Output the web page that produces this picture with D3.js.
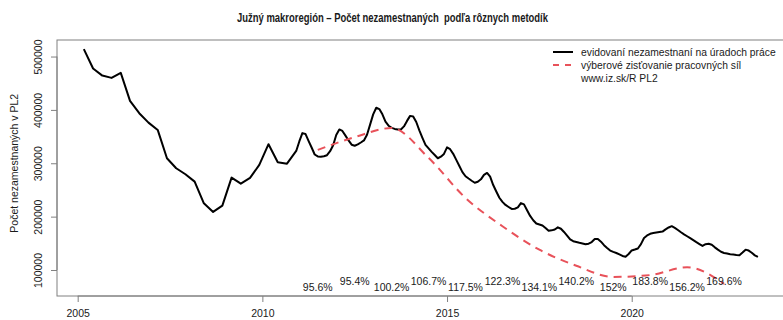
<!DOCTYPE html>
<html>
<head>
<meta charset="utf-8">
<script src="https://cdn.jsdelivr.net/npm/d3@7"></script>
<style>
  html, body { margin: 0; padding: 0; background: #fff; }
  svg { display: block; font-family: "Liberation Sans", Arial, Helvetica, sans-serif; }
  .title { white-space: pre; }
</style>
</head>
<body>
<svg id="chart" width="783" height="320"></svg>
<script>
// Registered unemployed (labour offices), quarterly Mar 2005 – Dec 2010
const regQuarterly = [
  513800, 477500, 464300, 460000,
  469400, 416900, 393800, 376200,
  362500, 309400, 290700, 279400,
  265600, 225000, 208800, 220600,
  273100, 261800, 272500, 296900,
  335700, 301900, 299300, 323100
];

// Registered unemployed, monthly Jan 2011 – Jun 2023
const regMonthly = [
  340900, 356500, 355000, 342100, 329500, 316400, 312800, 312400, 313200, 315100, 322600, 333800,
  353100, 363400, 360600, 351800, 342800, 334800, 332900, 335300, 338900, 342800, 353500, 372400,
  391600, 404100, 401500, 391800, 378100, 370400, 366300, 364400, 363300, 363300, 369100, 379400,
  388800, 387800, 377300, 361800, 347700, 334400, 327800, 321300, 315400, 309400, 312300, 317500,
  329700, 326300, 317700, 306300, 294800, 283400, 275700, 271400, 267300, 263500, 265400, 269900,
  278300, 281900, 274800, 259200, 247000, 235400, 227700, 221900, 218100, 214400, 214800, 217200,
  225400, 223000, 212100, 201300, 193200, 187200, 185300, 183400, 178600, 173500, 174300, 175900,
  179900, 177300, 171300, 164500, 157200, 154000, 152500, 151000, 149700, 148200, 149300, 152300,
  157900, 158100, 153100, 146500, 141300, 136400, 133900, 131900, 129300, 126300, 124900, 130000,
  136600, 138300, 140300, 148400, 160000, 164700, 167900, 169200, 170100, 171100, 172000, 176100,
  179700, 182100, 178900, 175000, 170700, 166800, 163200, 159600, 155900, 152100, 148600, 145200,
  148400, 149100, 147300, 142400, 138100, 134100, 131900, 130800, 129600, 128900, 128100, 127800,
  132800, 138100, 136400, 132300, 127400, 124400
];

// Labour force survey, annual values (plotted at mid-year)
const lfsYears = [2011, 2012, 2013, 2014, 2015, 2016, 2017, 2018, 2019, 2020, 2021, 2022];
const lfsValues = [325000, 349000, 366000, 310000, 235000, 182000, 138000, 108000, 87000, 90500, 105000, 74000];

// Ratio registered / LFS per year
const ratioLabels = ["95.6%", "95.4%", "100.2%", "106.7%", "117.5%", "122.3%",
                     "134.1%", "140.2%", "152%", "183.8%", "156.2%", "169.6%"];

const xTicks = [2005, 2010, 2015, 2020];
const yTicks = [100000, 200000, 300000, 400000, 500000];

const titleText = "Južný makroregión – Počet nezamestnaných  podľa rôznych metodík";
const yTitle = "Počet nezamestnaných v PL2";
const legendItems = [
  { label: "evidovaní nezamestnaní na úradoch práce", kind: "solid" },
  { label: "výberové zisťovanie pracovných síl", kind: "dash" },
  { label: "www.iz.sk/R PL2", kind: "none" }
];

const svg = d3.select("#chart");
const plot = { left: 57, right: 785, top: 40, bottom: 296 };

const x = d3.scaleLinear().domain([2004.44, 2024.15]).range([plot.left, plot.right]);
const y = d3.scaleLinear().domain([51250, 531000]).range([plot.bottom, plot.top]);

const RED = "#E8525A";
const AXIS = "#808080";
const TEXT = "#1a1a1a";

// Build the registered series
const regSeries = [];
regQuarterly.forEach((v, i) => {
  regSeries.push({ t: 2005 + Math.floor(i / 4) + (3 * (i % 4) + 2) / 12, v });
});
regMonthly.forEach((v, i) => {
  regSeries.push({ t: 2011 + i / 12, v });
});
const lfsSeries = lfsYears.map((yr, i) => ({ t: yr + 0.5, v: lfsValues[i] }));

// Title
svg.append("text")
  .attr("class", "title")
  .attr("x", 392.5).attr("y", 22)
  .attr("text-anchor", "middle")
  .attr("font-weight", "bold")
  .attr("font-size", 12.5)
  .attr("fill", TEXT)
  .attr("textLength", 311)
  .attr("lengthAdjust", "spacingAndGlyphs")
  .text(titleText);

// Frame
svg.append("rect")
  .attr("x", plot.left).attr("y", plot.top)
  .attr("width", plot.right - plot.left).attr("height", plot.bottom - plot.top)
  .attr("fill", "none").attr("stroke", AXIS).attr("stroke-width", 1);

// X axis
const xAxis = d3.axisBottom(x).tickValues(xTicks).tickFormat(d3.format("d")).tickSize(6).tickPadding(8);
const gx = svg.append("g").attr("transform", `translate(0,${plot.bottom})`).call(xAxis);
gx.select(".domain").attr("stroke", AXIS)
  .attr("d", `M${x(xTicks[0])},0H${x(xTicks[xTicks.length - 1])}`);
gx.selectAll(".tick line").attr("stroke", AXIS);
gx.selectAll(".tick text").attr("font-size", 10.5).attr("fill", TEXT)
  .attr("font-family", "Liberation Sans, Arial, sans-serif");

// Y axis with rotated labels
const yAxis = d3.axisLeft(y).tickValues(yTicks).tickFormat(d3.format("d")).tickSize(6).tickPadding(0);
const gy = svg.append("g").attr("transform", `translate(${plot.left},0)`).call(yAxis);
gy.select(".domain").attr("stroke", AXIS)
  .attr("d", `M0,${y(yTicks[0])}V${y(yTicks[yTicks.length - 1])}`);
gy.selectAll(".tick line").attr("stroke", AXIS);
gy.selectAll(".tick text")
  .attr("x", null).attr("dy", null)
  .attr("text-anchor", "middle")
  .attr("transform", "translate(-15,0) rotate(-90)")
  .attr("font-size", 10.5).attr("fill", TEXT)
  .attr("font-family", "Liberation Sans, Arial, sans-serif");

// Y axis title
svg.append("text")
  .attr("transform", `translate(18,${y(300000)}) rotate(-90)`)
  .attr("text-anchor", "middle")
  .attr("font-size", 10.5)
  .attr("fill", TEXT)
  .text(yTitle);

// Registered unemployed line
const line = d3.line().x(d => x(d.t)).y(d => y(d.v));
svg.append("path")
  .datum(regSeries)
  .attr("d", line)
  .attr("fill", "none")
  .attr("stroke", "#000")
  .attr("stroke-width", 2)
  .attr("stroke-linejoin", "round");

// LFS dashed line (smooth)
const smooth = d3.line().x(d => x(d.t)).y(d => y(d.v)).curve(d3.curveMonotoneX);
svg.append("path")
  .datum(lfsSeries)
  .attr("d", smooth)
  .attr("fill", "none")
  .attr("stroke", RED)
  .attr("stroke-width", 2)
  .attr("stroke-dasharray", "8,6");

// Ratio labels, alternating rows
const rowLow = 66800, rowHigh = 78000;
svg.append("g").selectAll("text")
  .data(ratioLabels)
  .join("text")
  .attr("x", (d, i) => x(lfsYears[i] + 0.5))
  .attr("y", (d, i) => y(i % 2 === 0 ? rowLow : rowHigh))
  .attr("dy", "0.35em")
  .attr("text-anchor", "middle")
  .attr("font-size", 10.5)
  .attr("fill", TEXT)
  .text(d => d);

// Legend
const lg = svg.append("g").attr("transform", "translate(553,52)");
legendItems.forEach((item, i) => {
  const row = lg.append("g").attr("transform", `translate(0,${i * 13})`);
  if (item.kind === "solid") {
    row.append("line").attr("x1", 0).attr("x2", 20).attr("y1", 0).attr("y2", 0)
      .attr("stroke", "#000").attr("stroke-width", 2);
  } else if (item.kind === "dash") {
    row.append("line").attr("x1", 0).attr("x2", 20).attr("y1", 0).attr("y2", 0)
      .attr("stroke", RED).attr("stroke-width", 2).attr("stroke-dasharray", "6,6");
  }
  row.append("text")
    .attr("x", 28).attr("y", 0).attr("dy", "0.35em")
    .attr("font-size", 10.3).attr("fill", TEXT)
    .text(item.label);
});
</script>
</body>
</html>
